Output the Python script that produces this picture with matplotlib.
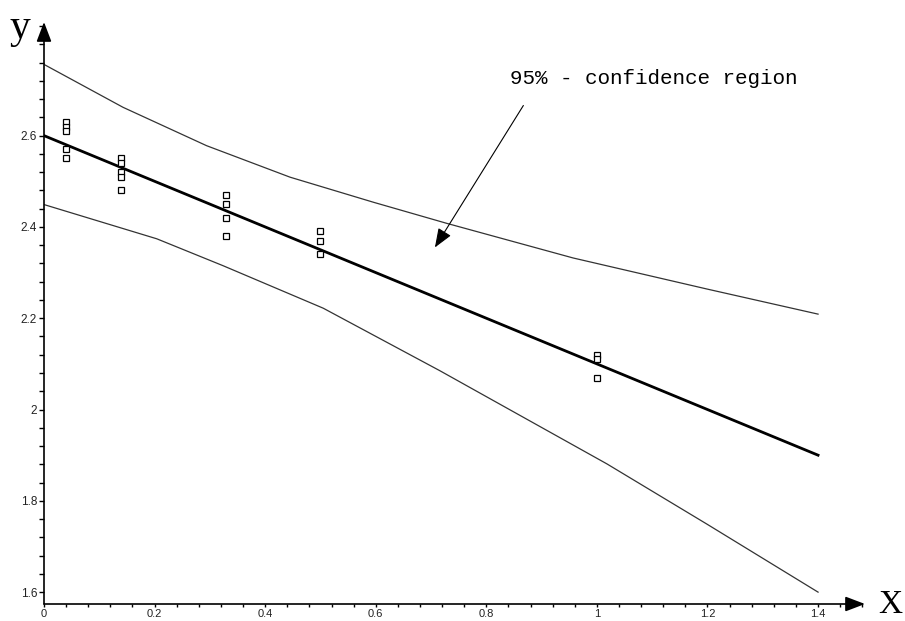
import matplotlib
matplotlib.use("Agg")
import matplotlib.pyplot as plt
from matplotlib.ticker import MultipleLocator

# ---- data ----
fit_x = [0.0, 1.4]
fit_y = [2.60, 1.90]

upper_x = [0.0, 0.143, 0.294, 0.445, 0.596, 0.728, 0.957, 1.199, 1.40]
upper_y = [2.756, 2.662, 2.578, 2.509, 2.454, 2.408, 2.332, 2.264, 2.209]

lower_x = [0.0, 0.204, 0.324, 0.505, 0.716, 1.018, 1.199, 1.40]
lower_y = [2.449, 2.374, 2.315, 2.222, 2.085, 1.881, 1.749, 1.600]

obs_x = [0.04]*5 + [0.14]*5 + [0.33]*4 + [0.5]*3 + [1.0]*3
obs_y = [2.63, 2.62, 2.61, 2.57, 2.55,
         2.55, 2.54, 2.52, 2.51, 2.48,
         2.47, 2.45, 2.42, 2.38,
         2.39, 2.37, 2.34,
         2.12, 2.11, 2.07]

xticks = [0, 0.2, 0.4, 0.6, 0.8, 1.0, 1.2, 1.4]
xtick_labels = ["0", "0.2", "0.4", "0.6", "0.8", "1", "1.2", "1.4"]
yticks = [1.6, 1.8, 2.0, 2.2, 2.4, 2.6]
ytick_labels = ["1.6", "1.8", "2", "2.2", "2.4", "2.6"]
annot_text = "95% - confidence region"

# ---- figure ----
W, H = 905, 621
fig = plt.figure(figsize=(W/100, H/100), dpi=100)
ax = fig.add_axes([44/W, 1 - 604/H, 821/W, 582/H])
x0, x1 = 0.0, 821/552.9
y0, y1 = 1.574, 1.574 + 582/456.5
ax.set_xlim(x0, x1)
ax.set_ylim(y0, y1)
for s in ax.spines.values():
    s.set_visible(False)

# axes with arrow heads
axis_arrow = dict(arrowstyle="-|>,head_length=1.0,head_width=0.38",
                  mutation_scale=12, lw=1.2, color="black",
                  shrinkA=0, shrinkB=0)
ax.annotate("", xy=(x1, y0), xytext=(x0, y0), arrowprops=axis_arrow,
            annotation_clip=False)
ax.annotate("", xy=(x0, y1), xytext=(x0, y0), arrowprops=axis_arrow,
            annotation_clip=False)

# ticks
ax.set_xticks(xticks)
ax.set_xticklabels(xtick_labels)
ax.set_yticks(yticks)
ax.set_yticklabels(ytick_labels)
ax.xaxis.set_minor_locator(MultipleLocator(0.04))
ax.yaxis.set_minor_locator(MultipleLocator(0.04))
ax.tick_params(axis="y", which="both", direction="out", length=3.5,
               width=1.0, colors="black", labelcolor="#222222",
               labelsize=8.5, pad=1.5)
ax.tick_params(axis="x", which="both", direction="out", length=2.5,
               width=1.0, colors="black", labelcolor="#222222",
               labelsize=8, pad=1.3)
for lab in ax.get_xticklabels() + ax.get_yticklabels():
    lab.set_family("Liberation Sans")

# curves
ax.plot(upper_x, upper_y, color="#333333", lw=0.9)
ax.plot(lower_x, lower_y, color="#333333", lw=0.9)
ax.plot(fit_x, fit_y, color="black", lw=2.0)
ax.plot(obs_x, obs_y, linestyle="none", marker="s", markersize=4.2,
        markerfacecolor="white", markeredgecolor="black", markeredgewidth=0.9)

# annotation
ax.text(0.843, 2.713, annot_text, fontsize=15, family="Liberation Mono",
        ha="left", va="baseline")
ax.annotate("", xy=(0.707, 2.355), xytext=(0.867, 2.666),
            arrowprops=dict(arrowstyle="-|>,head_length=0.9,head_width=0.35",
                            mutation_scale=13, lw=0.8, color="black",
                            shrinkA=0, shrinkB=0),
            annotation_clip=False)

# axis labels
fig.text(10/W, 1 - 38/H, "y", fontsize=30, family="Liberation Serif",
         ha="left", va="baseline")
fig.text(878/W, 1 - 613/H, "X", fontsize=24, family="Liberation Serif",
         ha="left", va="baseline")

fig.savefig("out.png", dpi=100)
